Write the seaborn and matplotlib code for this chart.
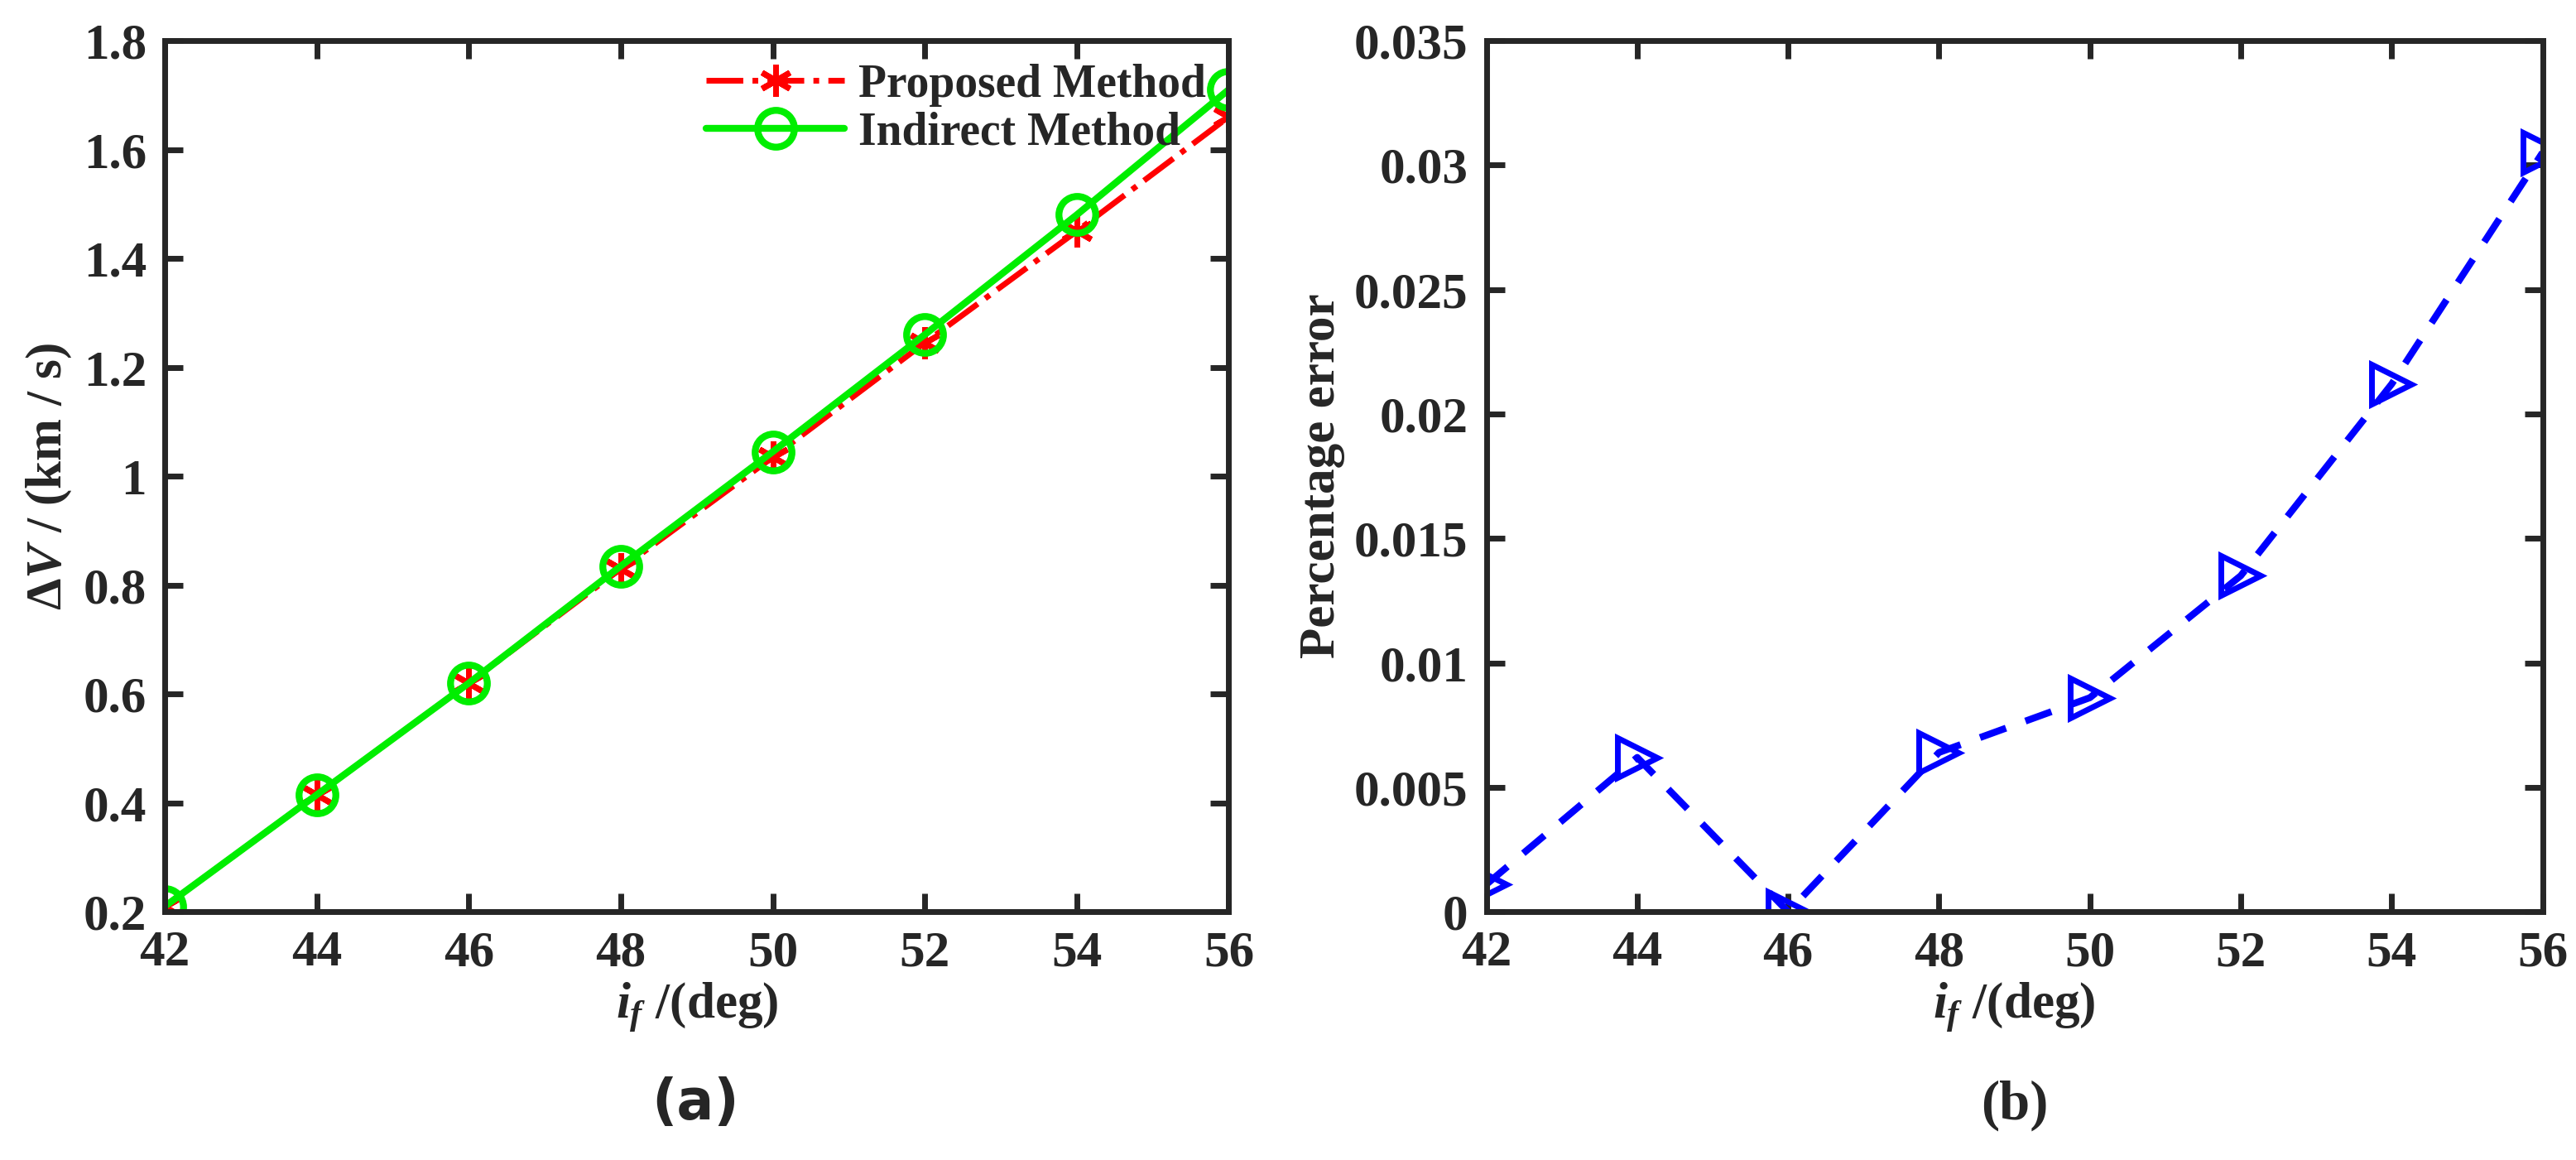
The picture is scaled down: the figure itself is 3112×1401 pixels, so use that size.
import matplotlib
matplotlib.use("Agg")
import matplotlib.pyplot as plt
import seaborn as sns
import pandas as pd

sns.set_theme(style="ticks")
plt.rcParams['font.family'] = ['Liberation Serif', 'DejaVu Serif']
plt.rcParams['font.weight'] = 'bold'
plt.rcParams['mathtext.fontset'] = 'custom'
plt.rcParams['mathtext.it'] = 'Liberation Serif:italic:bold'
plt.rcParams['mathtext.rm'] = 'Liberation Serif:bold'

inclination = [42, 44, 46, 48, 50, 52, 54, 56]
proposed = [0.21, 0.415, 0.62, 0.83, 1.035, 1.245, 1.45, 1.66]
indirect = [0.21, 0.415, 0.62, 0.835, 1.045, 1.26, 1.48, 1.71]
pct_error = [0.0011, 0.0062, 0.0, 0.0064, 0.0086, 0.0135, 0.0212, 0.0305]

fig = plt.figure(figsize=(15.56, 7.005), dpi=200)
ax1 = fig.add_axes([0.064, 0.214, 0.413, 0.751])
ax2 = fig.add_axes([0.577, 0.214, 0.410, 0.751])

df = pd.DataFrame({"x": inclination, "p": proposed, "i": indirect, "e": pct_error})
FS = 22
sns.lineplot(data=df, x="x", y="p", ax=ax1, color="red", linestyle="-.", lw=2.5,
             marker=(6, 2, 0), markersize=14, markeredgewidth=2.5, markeredgecolor="red",
             label="Proposed Method")
sns.lineplot(data=df, x="x", y="i", ax=ax1, color="#00ee00", linestyle="-", lw=3,
             marker="o", markersize=16, markerfacecolor="none", markeredgewidth=3,
             markeredgecolor="#00ee00", label="Indirect Method")
sns.lineplot(data=df, x="x", y="e", ax=ax2, color="blue", linestyle=(0, (4, 3)), lw=3,
             marker=">", markersize=17, markerfacecolor="none", markeredgewidth=2.5,
             markeredgecolor="blue")

ax1.set_ylim(0.2, 1.8)
ax1.set_yticks([0.2, 0.4, 0.6, 0.8, 1.0, 1.2, 1.4, 1.6, 1.8])
ax1.set_yticklabels(["0.2", "0.4", "0.6", "0.8", "1", "1.2", "1.4", "1.6", "1.8"])
ax2.set_ylim(0, 0.035)
ax2.set_yticks([0, 0.005, 0.01, 0.015, 0.02, 0.025, 0.03, 0.035])
ax2.set_yticklabels(["0", "0.005", "0.01", "0.015", "0.02", "0.025", "0.03", "0.035"])
for ax in (ax1, ax2):
    ax.set_xlim(42, 56)
    ax.set_xticks(inclination)
    ax.tick_params(labelsize=FS, direction="in", length=8, width=2.5, top=True, right=True, pad=8)
    for lbl in ax.get_xticklabels() + ax.get_yticklabels():
        lbl.set_fontweight("bold")
    for s in ax.spines.values():
        s.set_linewidth(2.5)
        s.set_color("#262626")
    ax.set_xlabel(r"$i_f$ /(deg)", fontsize=FS, fontweight="bold", labelpad=2)
ax1.set_ylabel(r"$\Delta V$ / (km / s)", fontsize=FS, fontweight="bold", labelpad=4)
ax2.set_ylabel("Percentage error", fontsize=FS, fontweight="bold", labelpad=4)

leg = ax1.legend(loc="upper right", frameon=False, fontsize=FS - 2, handlelength=3,
                 borderaxespad=0.1, labelspacing=0.1, handletextpad=0.3)
for t in leg.get_texts():
    t.set_fontweight("bold")

fig.text(0.27, 0.035, "(a)", ha="center", fontsize=FS + 2, family="DejaVu Sans")
fig.text(0.782, 0.035, "(b)", ha="center", fontsize=FS + 2)

fig.savefig("out.png", dpi=200)
